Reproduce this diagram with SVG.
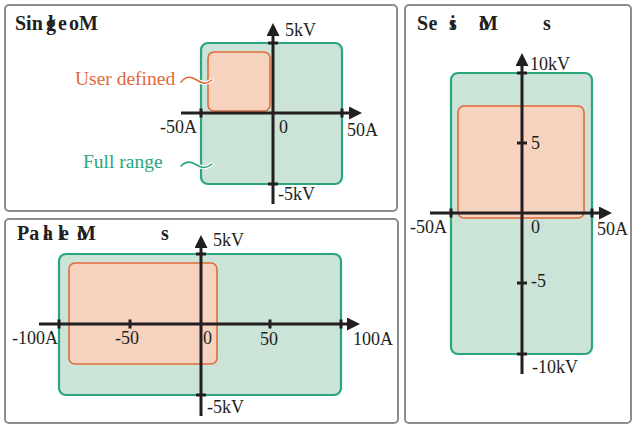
<svg xmlns="http://www.w3.org/2000/svg" width="632" height="427" viewBox="0 0 632 427">
<style>
.panel{fill:#fff;stroke:#8c8c8c;stroke-width:2}
.full{fill:#cce3d7;stroke:#2aa57e;stroke-width:2.2}
.user{fill:#f6d3bf;stroke:#e0693a;stroke-width:1.6}
.axis{stroke:#231f20;stroke-width:3;fill:none;marker-end:url(#arr)}
.tick{fill:#231f20}
.lbl{font-family:"Liberation Serif",serif;font-size:18px;fill:#231f20}
.title{font-family:"Liberation Serif",serif;font-size:20px;font-weight:bold;fill:#231f20}
.ann{font-family:"Liberation Serif",serif;font-size:19.5px}
.halo{fill:none;stroke:#fff;stroke-width:4;stroke-linecap:round}
.tl{fill:none;stroke-width:1.6;stroke-linecap:round}
</style>
<defs>
<marker id="arr" viewBox="0 0 13 13" refX="3" refY="6.5" markerWidth="13" markerHeight="13" markerUnits="userSpaceOnUse" orient="auto">
<path d="M0,0 L13,6.5 L0,13 Z" fill="#231f20"/>
</marker>
</defs>

<g id="single">
<rect class="panel" x="5" y="5" width="392" height="206" rx="4"/>
<text class="title" y="30"><tspan x="15">Sin</tspan><tspan x="48">l</tspan><tspan x="46">g</tspan><tspan x="58">e</tspan><tspan x="69">o</tspan><tspan x="79">M</tspan></text>
<rect class="full" x="201" y="43" width="141" height="141" rx="7"/>
<rect class="user" x="208" y="52" width="62" height="59" rx="6"/>
<line class="axis" x1="181" y1="113" x2="352" y2="113"/>
<line class="axis" x1="273" y1="204" x2="273" y2="33"/>
<rect class="tick" x="199.5" y="108.5" width="3" height="9"/>
<rect class="tick" x="340.5" y="108.5" width="3" height="9"/>
<rect class="tick" x="268" y="41.5" width="10" height="3"/>
<rect class="tick" x="268" y="182.5" width="10" height="3"/>
<text class="lbl" x="285" y="36">5kV</text>
<text class="lbl" x="197" y="133" text-anchor="end">-50A</text>
<text class="lbl" x="279" y="133">0</text>
<text class="lbl" x="347" y="136">50A</text>
<text class="lbl" x="278" y="200">-5kV</text>
</g>

<g id="user-defined-note">
<text class="ann" x="75" y="85" fill="#e0693a">User defined</text>
</g>
<g id="full-range-note">
<text class="ann" x="83" y="168" fill="#2aa57e">Full range</text>
</g>

<g id="series">
<rect class="panel" x="405" y="5" width="226" height="418" rx="4"/>
<text class="title" y="30"><tspan x="417">S</tspan><tspan x="428.5">e</tspan><tspan x="450">i</tspan><tspan x="449">s</tspan><tspan x="479">o</tspan><tspan x="479">M</tspan><tspan x="543">s</tspan></text>
<rect class="full" x="451" y="73" width="141" height="281" rx="7"/>
<rect class="user" x="458" y="106" width="126" height="112" rx="6"/>
<line class="axis" x1="430" y1="213" x2="602" y2="213"/>
<line class="axis" x1="522" y1="374" x2="522" y2="63"/>
<rect class="tick" x="449.5" y="208.5" width="3" height="9"/>
<rect class="tick" x="590.5" y="208.5" width="3" height="9"/>
<rect class="tick" x="517" y="71.5" width="10" height="3"/>
<rect class="tick" x="517" y="141.5" width="10" height="3"/>
<rect class="tick" x="517" y="281.5" width="10" height="3"/>
<rect class="tick" x="517" y="352.5" width="10" height="3"/>
<text class="lbl" x="530" y="70">10kV</text>
<text class="lbl" x="531" y="149">5</text>
<text class="lbl" x="447" y="233" text-anchor="end">-50A</text>
<text class="lbl" x="531" y="233">0</text>
<text class="lbl" x="597" y="235">50A</text>
<text class="lbl" x="531" y="287">-5</text>
<text class="lbl" x="532" y="373">-10kV</text>
</g>

<g id="parallel">
<rect class="panel" x="5" y="219" width="393" height="204" rx="4"/>
<text class="title" y="240"><tspan x="17">Pa</tspan><tspan x="43">l</tspan><tspan x="43">a</tspan><tspan x="58">l</tspan><tspan x="60">e</tspan><tspan x="77">o</tspan><tspan x="77">M</tspan><tspan x="161">s</tspan></text>
<rect class="full" x="59" y="254" width="282" height="141" rx="7"/>
<rect class="user" x="69" y="263" width="148" height="101" rx="6"/>
<line class="axis" x1="39" y1="324" x2="350" y2="324"/>
<line class="axis" x1="201" y1="416" x2="201" y2="245"/>
<rect class="tick" x="57.5" y="319.5" width="3" height="9"/>
<rect class="tick" x="128.5" y="319.5" width="3" height="9"/>
<rect class="tick" x="268.5" y="319.5" width="3" height="9"/>
<rect class="tick" x="339.5" y="319.5" width="3" height="9"/>
<rect class="tick" x="196" y="252.5" width="10" height="3"/>
<rect class="tick" x="196" y="393.5" width="10" height="3"/>
<text class="lbl" x="213" y="246">5kV</text>
<text class="lbl" x="58" y="344" text-anchor="end">-100A</text>
<text class="lbl" x="127" y="344" text-anchor="middle">-50</text>
<text class="lbl" x="203" y="344">0</text>
<text class="lbl" x="269" y="345" text-anchor="middle">50</text>
<text class="lbl" x="353" y="345">100A</text>
<text class="lbl" x="207" y="413">-5kV</text>
</g>

<g id="connectors">
<path class="halo" d="M181,82 C185,77 190,76 195,79 S205,86 212,80"/>
<path class="tl" stroke="#e0693a" d="M181,82 C185,77 190,76 195,79 S205,86 212,80"/>
<path class="halo" d="M181,166 C185,162 190,161 195,164 S205,170 212,164"/>
<path class="tl" stroke="#2aa57e" d="M181,166 C185,162 190,161 195,164 S205,170 212,164"/>
</g>
</svg>
